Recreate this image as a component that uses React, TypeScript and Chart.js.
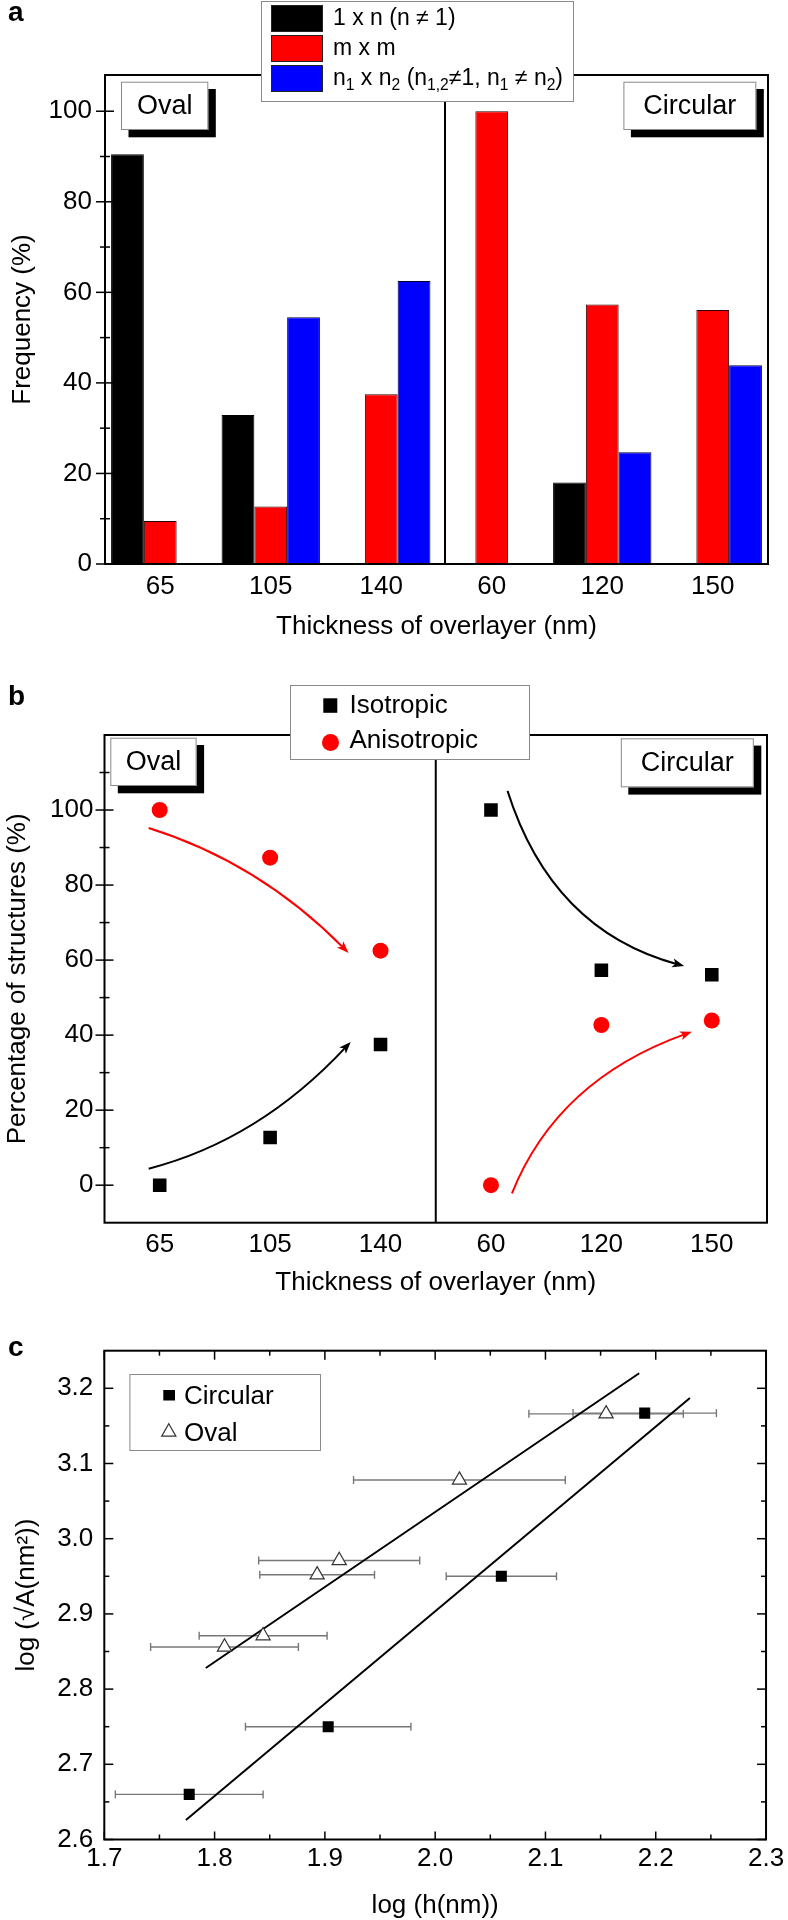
import React, { useEffect, useRef } from 'react';
import { Chart, registerables } from 'chart.js';

Chart.register(...registerables);

const FONT = '"Liberation Sans", Arial, Helvetica, sans-serif';

// ---------- Panel a ----------
const CATEGORIES = ['65', '105', '140', '60', '120', '150'];
const SERIES_1XN = [90.5, 32.9, 0, 0, 18.0, 0];
const SERIES_MXM = [9.5, 12.7, 37.5, 100, 57.3, 56.1];
const SERIES_N1N2 = [0, 54.5, 62.5, 0, 24.7, 43.9];
const LEGEND_A = ['1 x n (n ≠ 1)', 'm x m', 'n_{1} x n_{2} (n_{1,2}≠1, n_{1} ≠ n_{2})'];
const A_Y_TICKS = [0, 20, 40, 60, 80, 100];
const A_Y_MINOR = [10, 30, 50, 70, 90];
const GROUP_LABELS = ['Oval', 'Circular'];

// ---------- Panel b ----------
const ISOTROPIC = [0, 12.7, 37.5, 100, 57.3, 56.1];
const ANISOTROPIC = [100, 87.3, 62.5, 0, 42.7, 43.9];
const B_Y_TICKS = [0, 20, 40, 60, 80, 100];
const B_Y_MINOR = [10, 30, 50, 70, 90, 110];
// guide arrows: [x0, y0, ctrlX, ctrlY, x1, y1] in (category index, %)
const ARROW_RED_OVAL = [-0.1, 95.2, 0.9, 86, 1.71, 61.9];
const ARROW_BLACK_OVAL = [-0.1, 4.4, 0.9, 12, 1.73, 38.2];
const ARROW_BLACK_CIRC = [3.15, 105.1, 3.55, 68, 4.75, 58.4];
const ARROW_RED_CIRC = [3.19, -2.2, 3.6, 28, 4.82, 40.9];

// ---------- Panel c ----------
const CIRC_LOGH = [1.777, 1.903, 2.060, 2.190];
const CIRC_LOGA = [2.660, 2.750, 2.950, 3.167];
const CIRC_XERR = [0.067, 0.075, 0.050, 0.065];
const OVAL_LOGH = [1.809, 1.844, 1.893, 1.913, 2.022, 2.155];
const OVAL_LOGA = [2.856, 2.871, 2.952, 2.971, 3.078, 3.166];
const OVAL_XERR = [0.067, 0.058, 0.052, 0.073, 0.096, 0.070];
const OVAL_FIT_X = [1.792, 2.185];
const OVAL_FIT_Y = [2.828, 3.220];
const CIRC_FIT_X = [1.774, 2.231];
const CIRC_FIT_Y = [2.626, 3.187];
const C_X_TICKS = [1.7, 1.8, 1.9, 2.0, 2.1, 2.2, 2.3];
const C_X_MINOR = [1.75, 1.85, 1.95, 2.05, 2.15, 2.25];
const C_Y_TICKS = [2.6, 2.7, 2.8, 2.9, 3.0, 3.1, 3.2];
const C_Y_MINOR = [2.65, 2.75, 2.85, 2.95, 3.05, 3.15];

// ---------- layout ----------
const W = 788;
const H_A = 655;
const H_B = 645;
const H_C = 620;
const TOP_B = 655;
const TOP_C = 1300;
const DIVIDER_A = 2.577;
const DIVIDER_B = 2.5;

Chart.defaults.font.family = FONT;
Chart.defaults.color = '#000';

function line(ctx: any, x0: number, y0: number, x1: number, y1: number) {
  ctx.beginPath();
  ctx.moveTo(x0, y0);
  ctx.lineTo(x1, y1);
  ctx.stroke();
}

function tickMarks(ctx: any, scale: any, values: number[], pos: number, len: number, isY: boolean) {
  for (const v of values) {
    const p = scale.getPixelForValue(v);
    if (isY) line(ctx, pos, p, pos + len, p);
    else line(ctx, p, pos, p, pos + len);
  }
}

function drawRich(ctx: any, s: string, x: number, y: number, size: number) {
  const re = /_\{([^}]*)\}/g;
  const segs: { t: string; sub: boolean }[] = [];
  let last = 0;
  let m: any;
  while ((m = re.exec(s))) {
    if (m.index > last) segs.push({ t: s.slice(last, m.index), sub: false });
    segs.push({ t: m[1], sub: true });
    last = re.lastIndex;
  }
  if (last < s.length) segs.push({ t: s.slice(last), sub: false });
  ctx.textAlign = 'left';
  ctx.textBaseline = 'middle';
  ctx.fillStyle = '#000';
  for (const seg of segs) {
    const fs = seg.sub ? size * 0.68 : size;
    ctx.font = `${fs}px ${FONT}`;
    ctx.fillText(seg.t, x, seg.sub ? y + size * 0.3 : y);
    x += ctx.measureText(seg.t).width;
  }
}

function plainLabel(s: string) {
  return s.replace(/_\{([^}]*)\}/g, '$1');
}

function labelBox(ctx: any, text: string, x: number, y: number, w: number, h: number) {
  ctx.fillStyle = '#000';
  ctx.fillRect(x + 7.5, y + 7.3, w, h);
  ctx.fillStyle = '#fff';
  ctx.fillRect(x, y, w, h);
  ctx.strokeStyle = '#8a8a8a';
  ctx.lineWidth = 1;
  ctx.strokeRect(x + 0.5, y + 0.5, w - 1, h - 1);
  ctx.fillStyle = '#000';
  ctx.font = `27px ${FONT}`;
  ctx.textAlign = 'center';
  ctx.textBaseline = 'middle';
  ctx.fillText(text, x + w / 2, y + h / 2 + 1);
}

function panelLetter(ctx: any, letter: string, x: number, baseline: number) {
  ctx.fillStyle = '#000';
  ctx.font = `bold 28px ${FONT}`;
  ctx.textAlign = 'left';
  ctx.textBaseline = 'alphabetic';
  ctx.fillText(letter, x, baseline);
}

function drawArrow(ctx: any, xs: any, ys: any, a: number[], color: string) {
  const p0x = xs.getPixelForValue(a[0]);
  const p0y = ys.getPixelForValue(a[1]);
  const cx = xs.getPixelForValue(a[2]);
  const cy = ys.getPixelForValue(a[3]);
  const p1x = xs.getPixelForValue(a[4]);
  const p1y = ys.getPixelForValue(a[5]);
  let dx = p1x - cx;
  let dy = p1y - cy;
  const d = Math.hypot(dx, dy) || 1;
  dx /= d;
  dy /= d;
  const L = 12;
  const HW = 4.5;
  ctx.strokeStyle = color;
  ctx.fillStyle = color;
  ctx.lineWidth = 2;
  ctx.beginPath();
  ctx.moveTo(p0x, p0y);
  ctx.quadraticCurveTo(cx, cy, p1x - dx * L * 0.6, p1y - dy * L * 0.6);
  ctx.stroke();
  ctx.beginPath();
  ctx.moveTo(p1x, p1y);
  ctx.lineTo(p1x - dx * L - dy * HW, p1y - dy * L + dx * HW);
  ctx.lineTo(p1x - dx * L * 0.75, p1y - dy * L * 0.75);
  ctx.lineTo(p1x - dx * L + dy * HW, p1y - dy * L - dx * HW);
  ctx.closePath();
  ctx.fill();
}

const tickFont = { family: FONT, size: 26 };
const titleFont = { family: FONT, size: 26 };

function configA(): any {
  const colors = ['#000000', '#ff0000', '#0000ff'];
  const borders = ['#000000', '#2a0000', '#00002a'];
  const series = [SERIES_1XN, SERIES_MXM, SERIES_N1N2];
  const plugin = {
    id: 'panelA',
    afterDatasetsDraw(chart: any) {
      const { ctx, chartArea: ca, scales } = chart;
      ctx.save();
      ctx.strokeStyle = '#000';
      ctx.lineWidth = 2;
      ctx.strokeRect(ca.left, ca.top, ca.right - ca.left, ca.bottom - ca.top);
      const dx = scales.x.getPixelForValue(DIVIDER_A);
      line(ctx, dx, ca.top, dx, ca.bottom);
      ctx.lineWidth = 1.5;
      tickMarks(ctx, scales.y, A_Y_TICKS, ca.left - 9, 18, true);
      tickMarks(ctx, scales.y, A_Y_MINOR, ca.left - 5, 10, true);
      ctx.restore();
    },
    afterDraw(chart: any) {
      const { ctx } = chart;
      ctx.save();
      labelBox(ctx, GROUP_LABELS[0], 121, 81.7, 87.3, 48.3);
      labelBox(ctx, GROUP_LABELS[1], 623.4, 81.7, 132.9, 48.3);
      // legend
      ctx.fillStyle = '#fff';
      ctx.fillRect(261, 1, 313, 101);
      ctx.strokeStyle = '#8a8a8a';
      ctx.lineWidth = 1;
      ctx.strokeRect(261.5, 1.5, 312, 100);
      LEGEND_A.forEach((lab, i) => {
        const y = 5 + i * 30;
        ctx.fillStyle = colors[i];
        ctx.fillRect(271, y, 52, 27);
        ctx.strokeStyle = '#222';
        ctx.strokeRect(271.5, y + 0.5, 51, 26);
        drawRich(ctx, lab, 333, y + 13.5, 23);
      });
      panelLetter(ctx, 'a', 8, 21);
      ctx.restore();
    },
  };
  return {
    type: 'bar',
    data: {
      labels: CATEGORIES,
      datasets: series.map((d, i) => ({
        label: plainLabel(LEGEND_A[i]),
        data: d,
        backgroundColor: colors[i],
        borderColor: borders[i],
        borderWidth: (c: any) => (c.raw === 0 ? 0 : 1),
        borderSkipped: 'start',
        categoryPercentage: 0.89,
        barPercentage: 1.0,
      })),
    },
    options: {
      responsive: false,
      animation: false,
      devicePixelRatio: 1,
      layout: { padding: { left: 0, right: 20, top: 75, bottom: 0 } },
      plugins: { legend: { display: false }, tooltip: { enabled: false } },
      scales: {
        x: {
          type: 'category',
          offset: true,
          grid: { display: false, drawTicks: false },
          border: { display: false },
          ticks: { font: tickFont, color: '#000', padding: 7, maxRotation: 0, autoSkip: false },
          title: { display: true, text: 'Thickness of overlayer (nm)', font: titleFont, color: '#000', padding: { top: 0, bottom: 12.7 } },
          afterFit: (s: any) => { s.height = H_A - 564; },
        },
        y: {
          min: 0,
          max: 108,
          grid: { display: false, drawTicks: false },
          border: { display: false },
          ticks: { font: tickFont, color: '#000', padding: 13 },
          afterBuildTicks: (s: any) => { s.ticks = A_Y_TICKS.map((v) => ({ value: v })); },
          title: { display: true, text: 'Frequency (%)', font: titleFont, color: '#000', padding: { top: 7.5, bottom: 0 } },
          afterFit: (s: any) => { s.width = 105; },
        },
      },
    },
    plugins: [plugin],
  };
}

function configB(): any {
  const plugin = {
    id: 'panelB',
    afterDatasetsDraw(chart: any) {
      const { ctx, chartArea: ca, scales } = chart;
      ctx.save();
      ctx.strokeStyle = '#000';
      ctx.lineWidth = 2;
      ctx.strokeRect(ca.left, ca.top, ca.right - ca.left, ca.bottom - ca.top);
      const dx = scales.x.getPixelForValue(DIVIDER_B);
      line(ctx, dx, ca.top, dx, ca.bottom);
      ctx.lineWidth = 1.5;
      tickMarks(ctx, scales.y, B_Y_TICKS, ca.left - 9, 18, true);
      tickMarks(ctx, scales.y, B_Y_MINOR, ca.left - 5, 10, true);
      ctx.restore();
    },
    beforeDatasetsDraw(chart: any) {
      const { ctx, scales } = chart;
      ctx.save();
      drawArrow(ctx, scales.x, scales.y, ARROW_RED_OVAL, '#ff0000');
      drawArrow(ctx, scales.x, scales.y, ARROW_BLACK_OVAL, '#000000');
      drawArrow(ctx, scales.x, scales.y, ARROW_BLACK_CIRC, '#000000');
      drawArrow(ctx, scales.x, scales.y, ARROW_RED_CIRC, '#ff0000');
      ctx.restore();
    },
    afterDraw(chart: any) {
      const { ctx } = chart;
      ctx.save();
      labelBox(ctx, GROUP_LABELS[0], 110.3, 82.7, 86.3, 48.3);
      labelBox(ctx, GROUP_LABELS[1], 620.8, 83.3, 133, 49);
      // legend
      ctx.fillStyle = '#fff';
      ctx.fillRect(290, 30, 240, 75);
      ctx.strokeStyle = '#8a8a8a';
      ctx.lineWidth = 1;
      ctx.strokeRect(290.5, 30.5, 239, 74);
      ctx.fillStyle = '#000';
      ctx.fillRect(323.3, 43.3, 14, 14.5);
      drawRich(ctx, chart.data.datasets[0].label, 349.5, 51, 26);
      ctx.fillStyle = '#ff0000';
      ctx.beginPath();
      ctx.arc(330.5, 87.5, 8.5, 0, Math.PI * 2);
      ctx.fill();
      drawRich(ctx, chart.data.datasets[1].label, 349.5, 86, 26);
      panelLetter(ctx, 'b', 8, 50);
      ctx.restore();
    },
  };
  return {
    type: 'line',
    data: {
      labels: CATEGORIES,
      datasets: [
        {
          label: 'Isotropic',
          data: ISOTROPIC,
          showLine: false,
          pointStyle: 'rect',
          pointRadius: 9.6,
          pointBackgroundColor: '#000',
          pointBorderColor: '#000',
          pointBorderWidth: 0,
          backgroundColor: '#000',
          borderColor: '#000',
        },
        {
          label: 'Anisotropic',
          data: ANISOTROPIC,
          showLine: false,
          pointStyle: 'circle',
          pointRadius: 8,
          pointBackgroundColor: '#ff0000',
          pointBorderColor: '#ff0000',
          pointBorderWidth: 0,
          backgroundColor: '#ff0000',
          borderColor: '#ff0000',
        },
      ],
    },
    options: {
      responsive: false,
      animation: false,
      devicePixelRatio: 1,
      layout: { padding: { left: 0, right: 21, top: 80, bottom: 0 } },
      plugins: { legend: { display: false }, tooltip: { enabled: false } },
      scales: {
        x: {
          type: 'category',
          offset: true,
          grid: { display: false, drawTicks: false },
          border: { display: false },
          ticks: { font: tickFont, color: '#000', padding: 6.7, maxRotation: 0, autoSkip: false },
          title: { display: true, text: 'Thickness of overlayer (nm)', font: titleFont, color: '#000', padding: { top: 0, bottom: 1.1 } },
          afterFit: (s: any) => { s.height = H_B - 567.7; },
        },
        y: {
          min: -10,
          max: 120,
          grid: { display: false, drawTicks: false },
          border: { display: false },
          ticks: { font: tickFont, color: '#000', padding: 11 },
          afterBuildTicks: (s: any) => { s.ticks = B_Y_TICKS.map((v) => ({ value: v })); },
          title: { display: true, text: 'Percentage of structures (%)', font: titleFont, color: '#000', padding: { top: 2, bottom: 0 } },
          afterFit: (s: any) => { s.width = 104.5; },
        },
      },
    },
    plugins: [plugin],
  };
}

function configC(): any {
  const plugin = {
    id: 'panelC',
    beforeDatasetsDraw(chart: any) {
      const { ctx, scales } = chart;
      ctx.save();
      ctx.strokeStyle = '#777';
      ctx.lineWidth = 1.4;
      chart.data.datasets.forEach((ds: any) => {
        if (!ds.xErr) return;
        ds.data.forEach((pt: any, j: number) => {
          const e = ds.xErr[j];
          const y = scales.y.getPixelForValue(pt.y);
          const xl = scales.x.getPixelForValue(pt.x - e);
          const xr = scales.x.getPixelForValue(pt.x + e);
          line(ctx, xl, y, xr, y);
          line(ctx, xl, y - 4, xl, y + 4);
          line(ctx, xr, y - 4, xr, y + 4);
        });
      });
      ctx.restore();
    },
    afterDatasetsDraw(chart: any) {
      const { ctx, chartArea: ca, scales } = chart;
      ctx.save();
      ctx.strokeStyle = '#000';
      ctx.lineWidth = 2;
      ctx.strokeRect(ca.left, ca.top, ca.right - ca.left, ca.bottom - ca.top);
      ctx.lineWidth = 1.5;
      tickMarks(ctx, scales.y, C_Y_TICKS, ca.left, 9, true);
      tickMarks(ctx, scales.y, C_Y_MINOR, ca.left, 5, true);
      tickMarks(ctx, scales.y, C_Y_TICKS, ca.right, -9, true);
      tickMarks(ctx, scales.y, C_Y_MINOR, ca.right, -5, true);
      tickMarks(ctx, scales.x, C_X_TICKS, ca.top, 9, false);
      tickMarks(ctx, scales.x, C_X_MINOR, ca.top, 5, false);
      tickMarks(ctx, scales.x, C_X_TICKS, ca.bottom, -8, false);
      tickMarks(ctx, scales.x, C_X_MINOR, ca.bottom, -5, false);
      ctx.restore();
    },
    afterDraw(chart: any) {
      const { ctx } = chart;
      ctx.save();
      ctx.fillStyle = '#fff';
      ctx.fillRect(129.4, 74, 191.6, 77);
      ctx.strokeStyle = '#8a8a8a';
      ctx.lineWidth = 1;
      ctx.strokeRect(129.9, 74.5, 190.6, 76);
      ctx.fillStyle = '#000';
      ctx.fillRect(163.3, 90, 11.7, 10.5);
      drawRich(ctx, chart.data.datasets[0].label, 184, 96.5, 26);
      const tx = 168.8;
      const ty = 132;
      const r = 8.2;
      ctx.beginPath();
      ctx.moveTo(tx, ty - r);
      ctx.lineTo(tx + 0.866 * r, ty + 0.5 * r);
      ctx.lineTo(tx - 0.866 * r, ty + 0.5 * r);
      ctx.closePath();
      ctx.fillStyle = '#fff';
      ctx.fill();
      ctx.strokeStyle = '#333';
      ctx.lineWidth = 1.2;
      ctx.stroke();
      drawRich(ctx, chart.data.datasets[1].label, 184, 134, 26);
      panelLetter(ctx, 'c', 8, 56);
      ctx.restore();
    },
  };
  return {
    type: 'scatter',
    data: {
      datasets: [
        {
          label: 'Circular',
          data: CIRC_LOGH.map((x, i) => ({ x, y: CIRC_LOGA[i] })),
          xErr: CIRC_XERR,
          pointStyle: 'rect',
          pointRadius: 7.8,
          pointBackgroundColor: '#000',
          pointBorderColor: '#000',
          pointBorderWidth: 0,
          backgroundColor: '#000',
          borderColor: '#000',
        },
        {
          label: 'Oval',
          data: OVAL_LOGH.map((x, i) => ({ x, y: OVAL_LOGA[i] })),
          xErr: OVAL_XERR,
          pointStyle: 'triangle',
          pointRadius: 8.2,
          pointBackgroundColor: '#fff',
          pointBorderColor: '#333',
          pointBorderWidth: 1.2,
          backgroundColor: '#fff',
          borderColor: '#333',
        },
        {
          label: 'Oval fit',
          data: OVAL_FIT_X.map((x, i) => ({ x, y: OVAL_FIT_Y[i] })),
          showLine: true,
          pointRadius: 0,
          borderColor: '#000',
          borderWidth: 2,
        },
        {
          label: 'Circular fit',
          data: CIRC_FIT_X.map((x, i) => ({ x, y: CIRC_FIT_Y[i] })),
          showLine: true,
          pointRadius: 0,
          borderColor: '#000',
          borderWidth: 2,
        },
      ],
    },
    options: {
      responsive: false,
      animation: false,
      devicePixelRatio: 1,
      layout: { padding: { left: 0, right: 20.7, top: 50.7, bottom: 0 } },
      plugins: { legend: { display: false }, tooltip: { enabled: false } },
      scales: {
        x: {
          type: 'linear',
          min: 1.7,
          max: 2.3,
          grid: { display: false, drawTicks: false },
          border: { display: false },
          ticks: { font: tickFont, color: '#000', padding: 3.9, maxRotation: 0, callback: (v: any) => Number(v).toFixed(1) },
          afterBuildTicks: (s: any) => { s.ticks = C_X_TICKS.map((v) => ({ value: v })); },
          title: { display: true, text: 'log (h(nm))', font: { family: FONT, size: 26, lineHeight: 1.0 }, color: '#000', padding: { top: 0, bottom: 1 } },
          afterFit: (s: any) => { s.height = H_C - 539.5; },
        },
        y: {
          type: 'linear',
          min: 2.6,
          max: 3.25,
          grid: { display: false, drawTicks: false },
          border: { display: false },
          ticks: { font: tickFont, color: '#000', padding: 11, callback: (v: any) => Number(v).toFixed(1) },
          afterBuildTicks: (s: any) => { s.ticks = C_Y_TICKS.map((v) => ({ value: v })); },
          title: { display: true, text: 'log (√A(nm²))', font: titleFont, color: '#000', padding: { top: 11, bottom: 0 } },
          afterFit: (s: any) => { s.width = 104.3; },
        },
      },
    },
    plugins: [plugin],
  };
}

export default function App() {
  const refA = useRef<HTMLCanvasElement>(null);
  const refB = useRef<HTMLCanvasElement>(null);
  const refC = useRef<HTMLCanvasElement>(null);

  useEffect(() => {
    const charts = [
      new Chart(refA.current as HTMLCanvasElement, configA()),
      new Chart(refB.current as HTMLCanvasElement, configB()),
      new Chart(refC.current as HTMLCanvasElement, configC()),
    ];
    return () => charts.forEach((c) => c.destroy());
  }, []);

  const cs = (top: number, h: number): any => ({ position: 'absolute', left: 0, top, width: W, height: h, display: 'block' });

  return (
    <div style={{ position: 'absolute', left: 0, top: 0, width: W, height: 1920, background: '#fff', overflow: 'hidden' }}>
      <canvas ref={refA} width={W} height={H_A} style={cs(0, H_A)} />
      <canvas ref={refB} width={W} height={H_B} style={cs(TOP_B, H_B)} />
      <canvas ref={refC} width={W} height={H_C} style={cs(TOP_C, H_C)} />
    </div>
  );
}
